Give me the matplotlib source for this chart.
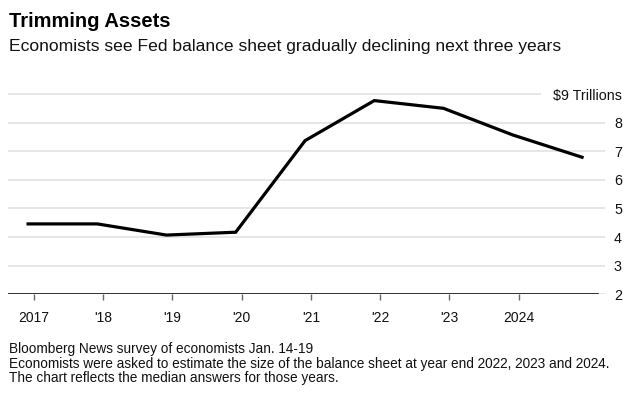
import numpy as np
import pandas as pd
import matplotlib
matplotlib.use("Agg")
import matplotlib.pyplot as plt
import matplotlib.dates as mdates

plt.rcParams['font.family'] = ['Liberation Sans', 'DejaVu Sans']

# year-end Fed balance sheet, trillions of dollars (2022-2024 = survey medians)
dates = pd.to_datetime(['2016-12-01', '2017-12-01', '2018-12-01', '2019-12-01',
                        '2020-12-01', '2021-12-01', '2022-12-01', '2023-12-01',
                        '2024-12-01'])
values = [4.46, 4.46, 4.07, 4.17, 7.37, 8.77, 8.50, 7.57, 6.79]

tick_years = pd.to_datetime(['2017-01-01', '2018-01-01', '2019-01-01', '2020-01-01',
                             '2021-01-01', '2022-01-01', '2023-01-01', '2024-01-01'])
tick_labels = ['2017', "'18", "'19", "'20", "'21", "'22", "'23", '2024']
y_ticks = [2, 3, 4, 5, 6, 7, 8, 9]
y_labels = ['2', '3', '4', '5', '6', '7', '8', '$9 Trillions']

W, H = 641, 394
fig = plt.figure(figsize=(W / 100, H / 100), dpi=100)
# axes box in pixels: x 8..605, y 90..294.3
ax = fig.add_axes([8 / W, 1 - 294.3 / H, (605 - 8) / W, (294.3 - 90) / H])

grid_c = '#e6e6e6'
for yv in y_ticks:
    xmax = 0.891 if yv == 9 else 1.0
    ax.axhline(yv, 0, xmax, color=grid_c, lw=1.4, zorder=1)
# black baseline
ax.axhline(2, 0, (598 - 8) / (605 - 8), color='black', lw=1.1, zorder=2)

ax.plot(dates, values, color='black', lw=2.3, solid_joinstyle='miter', zorder=3)

ax.set_xlim(pd.Timestamp('2016-08-17'), pd.Timestamp('2025-04-01'))
ax.set_ylim(2, 9.14)

for s in ax.spines.values():
    s.set_visible(False)

ax.set_xticks(tick_years)
ax.set_xticklabels(tick_labels, fontsize=10, color='#111111')
ax.tick_params(axis='x', length=4.3, width=1, color='#666666', pad=8)

ax.yaxis.tick_right()
ax.set_yticks(y_ticks)
ax.set_yticklabels(y_labels, fontsize=10.3, color='#111111')
ax.tick_params(axis='y', length=0, pad=12.2)
for lab in ax.get_yticklabels():
    lab.set_horizontalalignment('right')

fig.text(9 / W, 1 - 26.7 / H, 'Trimming Assets', fontsize=14.5, fontweight='bold',
         va='baseline', ha='left', color='black')
fig.text(9 / W, 1 - 50.7 / H,
         'Economists see Fed balance sheet gradually declining next three years',
         fontsize=12.6, va='baseline', ha='left', color='#111111')

foot = ['Bloomberg News survey of economists Jan. 14-19',
        'Economists were asked to estimate the size of the balance sheet at year end 2022, 2023 and 2024.',
        'The chart reflects the median answers for those years.']
for i, line in enumerate(foot):
    fig.text(9 / W, 1 - (353.3 + 14.5 * i) / H, line, fontsize=9.8,
             va='baseline', ha='left', color='#111111')

fig.savefig('out.png', dpi=100)
